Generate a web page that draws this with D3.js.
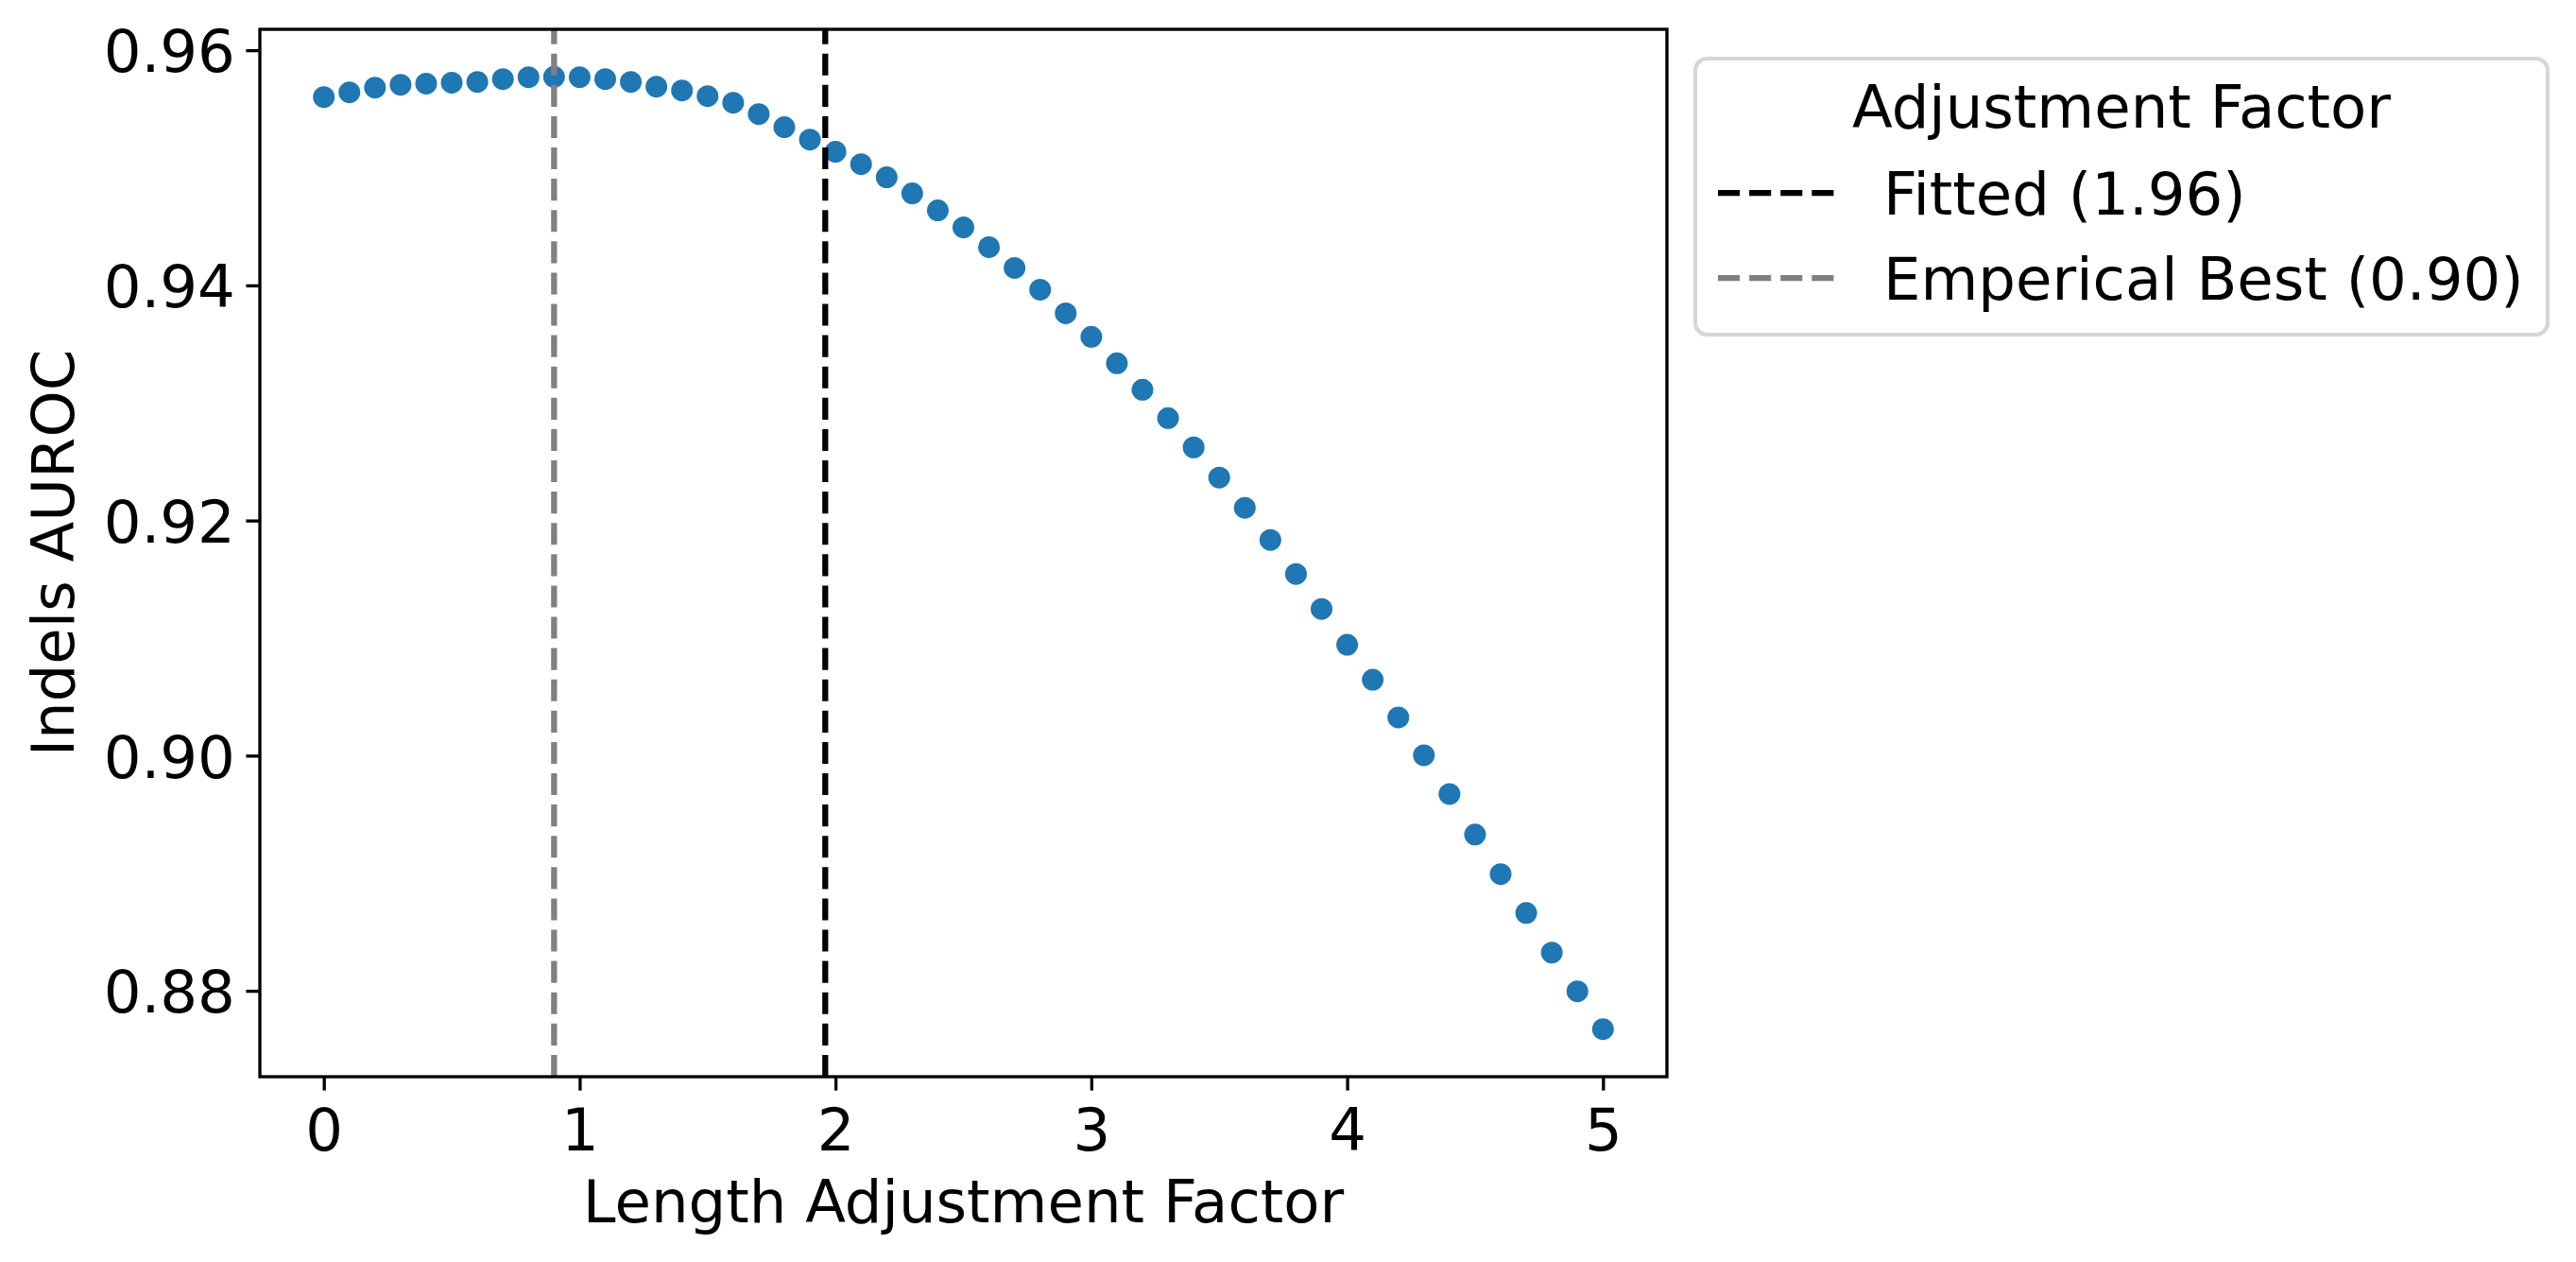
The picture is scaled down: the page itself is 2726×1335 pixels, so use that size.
<!DOCTYPE html>
<html>
<head>
<meta charset="utf-8">
<script src="https://cdn.jsdelivr.net/npm/d3@7"></script>
<style>
  html, body { margin: 0; padding: 0; background: #ffffff; }
  svg { display: block; font-family: "DejaVu Sans", sans-serif; }
</style>
</head>
<body>
<svg id="chart" width="2726" height="1335"></svg>
<script>
// ---- data ----
const factors = [0.0,0.1,0.2,0.3,0.4,0.5,0.6,0.7,0.8,0.9,
                 1.0,1.1,1.2,1.3,1.4,1.5,1.6,1.7,1.8,1.9,
                 2.0,2.1,2.2,2.3,2.4,2.5,2.6,2.7,2.8,2.9,
                 3.0,3.1,3.2,3.3,3.4,3.5,3.6,3.7,3.8,3.9,
                 4.0,4.1,4.2,4.3,4.4,4.5,4.6,4.7,4.8,4.9,5.0];
const auroc = [0.95602,0.95642,0.95682,0.95706,0.95716,0.95724,0.95730,0.95754,0.95770,0.95773,
               0.95770,0.95754,0.95730,0.95690,0.95658,0.95610,0.95553,0.95457,0.95345,0.95240,
               0.95136,0.95031,0.94919,0.94782,0.94638,0.94493,0.94325,0.94148,0.93963,0.93762,
               0.93562,0.93337,0.93112,0.92871,0.92622,0.92365,0.92108,0.91835,0.91545,0.91248,
               0.90943,0.90646,0.90325,0.90003,0.89674,0.89329,0.88992,0.88662,0.88325,0.87995,
               0.87674];
const refLabels = ["Fitted (1.96)", "Emperical Best (0.90)"];
const refValues = [1.96, 0.90];
const refColors = ["#000000", "#808080"];
const xTicks = [0, 1, 2, 3, 4, 5];
const yTicks = [0.88, 0.90, 0.92, 0.94, 0.96];
const xLabel = "Length Adjustment Factor";
const yLabel = "Indels AUROC";
const legendTitle = "Adjustment Factor";

// ---- layout ----
const FS = 62.5;
const plot = {left: 275, right: 1764, top: 31, bottom: 1139};
const tickLen = 14.6, tickPad = 14.6, spineW = 3.33;

const svg = d3.select("#chart");

// matplotlib-like 5% margins
function padded(ext) { const m = (ext[1] - ext[0]) * 0.05; return [ext[0] - m, ext[1] + m]; }
const x = d3.scaleLinear().domain(padded(d3.extent(factors))).range([plot.left, plot.right]);
const y = d3.scaleLinear().domain(padded(d3.extent(auroc))).range([plot.bottom, plot.top]);

const data = factors.map((f, i) => ({f, v: auroc[i]}));

// clip
svg.append("defs").append("clipPath").attr("id", "clip")
  .append("rect").attr("x", plot.left).attr("y", plot.top)
  .attr("width", plot.right - plot.left).attr("height", plot.bottom - plot.top);

// scatter points
svg.append("g").attr("clip-path", "url(#clip)")
  .selectAll("circle").data(data).join("circle")
  .attr("cx", d => x(d.f)).attr("cy", d => y(d.v))
  .attr("r", 12.5)
  .attr("fill", "#1f77b4").attr("stroke", "#ffffff").attr("stroke-width", 2);

// reference vertical lines
svg.append("g").selectAll("line").data(refValues).join("line")
  .attr("x1", d => x(d)).attr("x2", d => x(d))
  .attr("y1", plot.bottom).attr("y2", plot.top)
  .attr("stroke", (d, i) => refColors[i]).attr("stroke-width", 6.25)
  .attr("stroke-dasharray", "23.1,10");

// axes
const xAxis = d3.axisBottom(x).tickValues(xTicks).tickFormat(d3.format("d"))
  .tickSize(tickLen).tickPadding(tickPad);
const gx = svg.append("g").attr("transform", `translate(0,${plot.bottom})`).call(xAxis);
gx.select(".domain").remove();
gx.selectAll(".tick line").attr("stroke", "#000").attr("stroke-width", spineW);
gx.selectAll(".tick text").attr("font-size", FS).attr("font-family", "DejaVu Sans")
  .attr("fill", "#000").attr("dy", null).attr("y", 77.5);

const yAxis = d3.axisLeft(y).tickValues(yTicks).tickFormat(d3.format(".2f"))
  .tickSize(tickLen).tickPadding(tickPad);
const gy = svg.append("g").attr("transform", `translate(${plot.left},0)`).call(yAxis);
gy.select(".domain").remove();
gy.selectAll(".tick line").attr("stroke", "#000").attr("stroke-width", spineW);
gy.selectAll(".tick text").attr("font-size", FS).attr("font-family", "DejaVu Sans")
  .attr("fill", "#000").attr("dy", null).attr("y", 22.8).attr("x", -(tickLen + tickPad) + 3);

// spines
svg.append("rect").attr("x", plot.left).attr("y", plot.top)
  .attr("width", plot.right - plot.left).attr("height", plot.bottom - plot.top)
  .attr("fill", "none").attr("stroke", "#000").attr("stroke-width", spineW);

// axis labels
svg.append("text").attr("x", (plot.left + plot.right) / 2).attr("y", 1293)
  .attr("text-anchor", "middle").attr("font-size", FS).attr("fill", "#000").text(xLabel);
svg.append("text").attr("transform", `translate(78,${(plot.top + plot.bottom) / 2}) rotate(-90)`)
  .attr("text-anchor", "middle").attr("font-size", FS).attr("fill", "#000").text(yLabel);

// legend
const lg = svg.append("g");
const box = {x: 1794, y: 62, w: 902, h: 292};
lg.append("rect").attr("x", box.x).attr("y", box.y).attr("width", box.w).attr("height", box.h)
  .attr("rx", 12.5).attr("ry", 12.5)
  .attr("fill", "rgba(255,255,255,0.8)").attr("stroke", "#d6d6d6").attr("stroke-width", 4.17);
lg.append("text").attr("x", box.x + box.w / 2).attr("y", 135)
  .attr("text-anchor", "middle").attr("font-size", FS).attr("fill", "#000").text(legendTitle);
const entryY = [204, 294];
refLabels.forEach((lab, i) => {
  lg.append("line").attr("x1", 1818).attr("x2", 1942)
    .attr("y1", entryY[i]).attr("y2", entryY[i])
    .attr("stroke", refColors[i]).attr("stroke-width", 6.25)
    .attr("stroke-dasharray", "23.1,10");
  lg.append("text").attr("x", 1993).attr("y", entryY[i] + 23)
    .attr("font-size", FS).attr("fill", "#000").text(lab);
});
</script>
</body>
</html>
